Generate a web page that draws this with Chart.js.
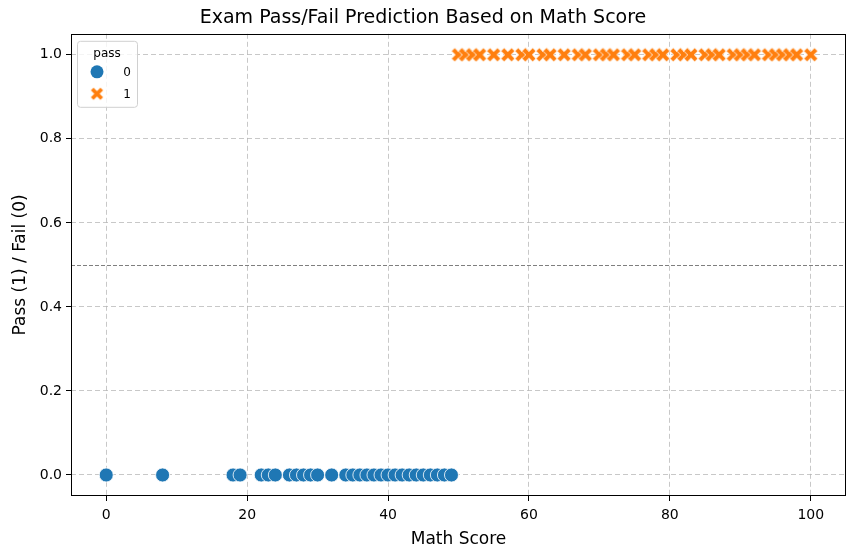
<!DOCTYPE html>
<html lang="en">
<head>
  <meta charset="UTF-8">
  <title>Exam Pass/Fail Prediction</title>
  <style>
    body { margin: 0; padding: 0; background: #fff; }
    .wrap { width: 855px; height: 558px; }
  </style>
</head>
<body>
  <div class="wrap">
    <canvas id="passChart" width="855" height="558"></canvas>
  </div>

  <script src="https://cdn.jsdelivr.net/npm/chart.js"></script>
  <script>
    // math scores of students who failed (pass = 0) and passed (pass = 1)
    const failScores = [0, 8, 18, 19, 22, 23, 24, 26, 27, 28, 29, 30, 32, 34, 35, 36, 37, 38, 39, 40, 41, 42, 43, 44, 45, 46, 47, 48, 49];
    const passScores = [50, 51, 52, 53, 55, 57, 59, 60, 62, 63, 65, 67, 68, 70, 71, 72, 74, 75, 77, 78, 79, 81, 82, 83, 85, 86, 87, 89, 90, 91, 92, 94, 95, 96, 97, 98, 100];
    const classLabels = ['0', '1'];
    const xTicks = [0, 20, 40, 60, 80, 100];
    const yTicks = [0, 0.2, 0.4, 0.6, 0.8, 1.0];
    const threshold = 0.5;

    const FONT = "'DejaVu Sans', sans-serif";
    const BLUE = '#1f77b4';
    const ORANGE = '#ff7f0e';

    // seaborn style filled "X" marker
    function makeXMarker(size, color) {
      const c = document.createElement('canvas');
      c.width = size + 4;
      c.height = size + 4;
      const g = c.getContext('2d');
      const m = c.width / 2, h = size / 2, w = size / 4.2;
      g.translate(m, m);
      g.beginPath();
      g.moveTo(-h + w, -h);
      g.lineTo(0, -w);
      g.lineTo(h - w, -h);
      g.lineTo(h, -h + w);
      g.lineTo(w, 0);
      g.lineTo(h, h - w);
      g.lineTo(h - w, h);
      g.lineTo(0, w);
      g.lineTo(-h + w, h);
      g.lineTo(-h, h - w);
      g.lineTo(-w, 0);
      g.lineTo(-h, -h + w);
      g.closePath();
      g.fillStyle = color;
      g.fill();
      g.strokeStyle = '#ffffff';
      g.lineWidth = 0.8;
      g.stroke();
      return c;
    }
    const xMarker = makeXMarker(14, ORANGE);
    const xMarkerSmall = makeXMarker(13, ORANGE);

    // dashed 0.5 line, full frame and legend box
    const extras = {
      id: 'extras',
      beforeDatasetsDraw(chart) {
        const ctx = chart.ctx, a = chart.chartArea;
        const y = Math.round(chart.scales.y.getPixelForValue(threshold)) + 0.5;
        ctx.save();
        ctx.strokeStyle = '#7f7f7f';
        ctx.lineWidth = 1;
        ctx.setLineDash([4, 2]);
        ctx.beginPath();
        ctx.moveTo(a.left, y);
        ctx.lineTo(a.right, y);
        ctx.stroke();
        ctx.restore();
      },
      afterDraw(chart) {
        const ctx = chart.ctx, a = chart.chartArea;
        ctx.save();
        ctx.strokeStyle = '#000';
        ctx.lineWidth = 1;
        ctx.strokeRect(Math.round(a.left) + 0.5, Math.round(a.top) + 0.5,
          Math.round(a.right - a.left) - 1, Math.round(a.bottom - a.top) - 1);

        // legend
        const bx = a.left + 6, by = a.top + 7, bw = 60, bh = 66;
        ctx.beginPath();
        ctx.roundRect(bx + 0.5, by + 0.5, bw, bh, 3);
        ctx.fillStyle = 'rgba(255,255,255,0.8)';
        ctx.fill();
        ctx.strokeStyle = '#d0d0d0';
        ctx.stroke();

        ctx.fillStyle = '#000';
        ctx.font = '12px ' + FONT;
        ctx.textAlign = 'center';
        ctx.textBaseline = 'middle';
        ctx.fillText('pass', bx + 30, by + 13);

        ctx.beginPath();
        ctx.arc(bx + 20, by + 31, 6.5, 0, Math.PI * 2);
        ctx.fillStyle = BLUE;
        ctx.fill();
        ctx.drawImage(xMarkerSmall, bx + 20 - xMarkerSmall.width / 2, by + 53 - xMarkerSmall.height / 2);

        ctx.fillStyle = '#000';
        ctx.fillText(classLabels[0], bx + 50, by + 32);
        ctx.fillText(classLabels[1], bx + 50, by + 54);
        ctx.restore();
      }
    };

    const gridOpts = {
      color: 'rgba(176,176,176,0.7)',
      lineWidth: 1,
      drawTicks: true,
      tickLength: 5,
      tickColor: '#000',
      tickBorderDash: [],
      tickWidth: 1
    };
    // border.dash drives the grid line dash in v4; the frame is drawn by hand
    const borderOpts = { display: false, dash: [5, 3] };

    new Chart(document.getElementById('passChart'), {
      type: 'scatter',
      data: {
        datasets: [
          {
            label: classLabels[0],
            data: failScores.map(s => ({ x: s, y: 0 })),
            pointStyle: 'circle',
            pointRadius: 7,
            pointHoverRadius: 7,
            backgroundColor: BLUE,
            borderColor: '#ffffff',
            borderWidth: 0.8
          },
          {
            label: classLabels[1],
            data: passScores.map(s => ({ x: s, y: 1 })),
            pointStyle: xMarker,
            pointRadius: 7,
            backgroundColor: ORANGE,
            borderColor: '#ffffff'
          }
        ]
      },
      options: {
        responsive: false,
        animation: false,
        layout: { padding: { left: 0, right: 9, top: 0, bottom: 0 } },
        plugins: {
          legend: { display: false },
          tooltip: { enabled: false },
          title: {
            display: true,
            text: 'Exam Pass/Fail Prediction Based on Math Score',
            color: '#000',
            font: { family: FONT, size: 19, weight: 'normal' },
            padding: { top: 7, bottom: 4 }
          }
        },
        scales: {
          x: {
            type: 'linear',
            min: -5,
            max: 105,
            afterBuildTicks: s => { s.ticks = xTicks.map(v => ({ value: v })); },
            afterFit: s => { s.height = 62; },
            grid: gridOpts,
            border: borderOpts,
            ticks: {
              color: '#000',
              padding: 6,
              font: { family: FONT, size: 14 }
            },
            title: {
              display: true,
              text: 'Math Score',
              color: '#000',
              font: { family: FONT, size: 17 },
              padding: { top: 0, bottom: 8 }
            }
          },
          y: {
            type: 'linear',
            min: -0.05,
            max: 1.05,
            afterBuildTicks: s => { s.ticks = yTicks.map(v => ({ value: v })); },
            afterFit: s => { s.width = 71; },
            grid: gridOpts,
            border: borderOpts,
            ticks: {
              color: '#000',
              padding: 4,
              font: { family: FONT, size: 14 },
              callback: v => v.toFixed(1)
            },
            title: {
              display: true,
              text: 'Pass (1) / Fail (0)',
              color: '#000',
              font: { family: FONT, size: 17 },
              padding: { top: 10, bottom: 0 }
            }
          }
        }
      },
      plugins: [extras]
    });
  </script>
</body>
</html>
